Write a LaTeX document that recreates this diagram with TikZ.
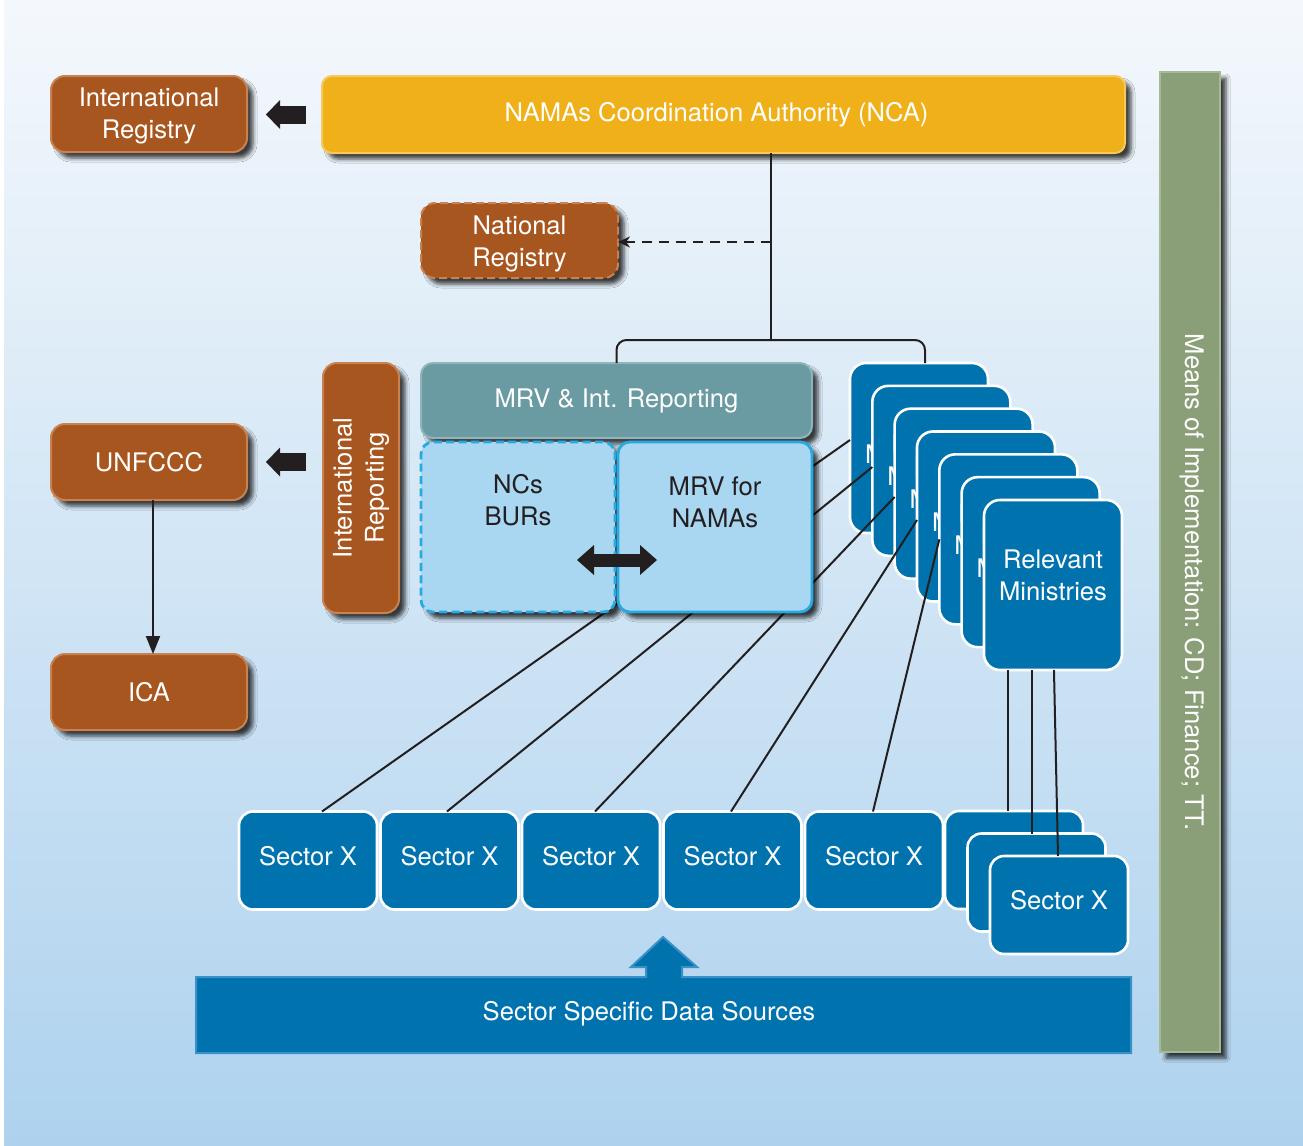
\documentclass[tikz,border=0pt]{standalone}
\usepackage{fontspec}
\setmainfont{TeX Gyre Heros}
\usetikzlibrary{shadows.blur, arrows.meta, calc}

\definecolor{bgtop}{HTML}{F4F8FC}
\definecolor{bgbot}{HTML}{AED2EE}
\definecolor{rust}{HTML}{A8561F}
\definecolor{rustedge}{HTML}{C9814F}
\definecolor{amber}{HTML}{F0B019}
\definecolor{amberedge}{HTML}{F7C85C}
\definecolor{slate}{HTML}{6A9AA2}
\definecolor{slateedge}{HTML}{8FB4BA}
\definecolor{pale}{HTML}{A9D6F1}
\definecolor{cyanedge}{HTML}{27AAE1}
\definecolor{deep}{HTML}{0073AE}
\definecolor{deepedge}{HTML}{3A90C7}
\definecolor{sage}{HTML}{8A9E77}
\definecolor{sageedge}{HTML}{A7B995}
\definecolor{ink}{HTML}{231F20}

\begin{document}
\begin{tikzpicture}[x=0.5pt, y=-0.5pt,
  every node/.style={font=\fontsize{12.8pt}{16pt}\selectfont, inner sep=0pt, outer sep=0pt},
  shadowed/.style={blur shadow={shadow xshift=3pt, shadow yshift=-3pt,
      shadow blur radius=2pt, shadow opacity=75}},
  rustbox/.style={draw=rustedge, line width=1pt, fill=rust, rounded corners=7pt,
      text=white, align=center, shadowed, minimum width=98pt, minimum height=38pt},
  amberbox/.style={draw=amberedge, line width=1pt, fill=amber, rounded corners=5pt,
      text=white, shadowed},
  slatebox/.style={draw=slateedge, line width=1pt, fill=slate, rounded corners=6pt,
      text=white, shadowed},
  palebox/.style={draw=cyanedge, line width=1.4pt, fill=pale, rounded corners=6pt,
      shadowed, minimum width=97pt, minimum height=85pt},
  sagebar/.style={draw=sageedge, line width=1pt, fill=sage, shadowed},
  card/.style={draw=white, line width=1.3pt, fill=deep, text=white, align=center},
  mincard/.style={card, rounded corners=8pt, minimum width=69pt, minimum height=85pt},
  seccard/.style={card, rounded corners=7pt, minimum width=69pt, minimum height=49pt,
      text depth=5pt},
  darktext/.style={text=ink, align=center},
  inlabel/.style={text=white, align=center, yshift=-1.2pt},
  link/.style={draw=ink, line width=1pt},
  blockarrow/.style={draw=ink, line width=9pt,
      -{Triangle[length=7pt, width=14.5pt, line width=0pt]}},
]

% backdrop
\shade[top color=bgtop, bottom color=bgbot] (0,0) rectangle (1303,1146);
\fill[white] (0,0) rectangle (4,1146);
\useasboundingbox (0,0) rectangle (1303,1146);

% ministries, stacked front to back
\foreach \k in {0,...,6} {
  \node[mincard, label={[text=white, align=center, yshift=5pt]center:Relevant\\Ministries}]
    (m\k) at ({919+22.33*\k},{448+22.83*\k}) {};
}

% sector row and sector stack
\foreach \k in {0,...,4} {
  \node[seccard] (s\k) at ({308+141.5*\k},860.5) {Sector X};
}
\node[seccard] (t0) at (1014,860) {};
\node[seccard] (t1) at (1036.5,882.5) {};
\node[seccard] (t2) at (1059,905) {Sector X};

% sectors to ministries
\draw[link] ([xshift=7pt]s0.north) -- ([yshift=4pt]m0.west);
\draw[link] ([xshift=-1.25pt]s1.north) -- ([yshift=1.9pt]m1.west);
\draw[link] ([xshift=2pt]s2.north) -- ([yshift=-1.65pt]m2.west);
\draw[link] ([xshift=-0.75pt]s3.north) -- ([yshift=-1.75pt]m3.west);
\draw[link] ([xshift=-0.5pt]s4.north) -- (m4.west);
\draw[link] ([xshift=-22.5pt]m6.south) -- ([xshift=-22.5pt]m6.south |- t0.north);
\draw[link] ([xshift=-10.5pt]m6.south) -- ([xshift=-10.5pt]m6.south |- t1.north);
\draw[link] ([xshift=0.5pt]m6.south) -- ([xshift=-0.5pt]t2.north);

% MRV block
\node[slatebox, minimum width=195.5pt, minimum height=37.5pt] (mrv) at (616.5,400.5)
  {MRV \& Int. Reporting};
\node[palebox, dash pattern=on 4pt off 2.2pt] (ncs) at (518,527) {};
\node[palebox] (mrvn) at (715,527) {};
\node[darktext] (ncs-t) at (518,500) {NCs\\BURs};
\node[darktext] (mrvn-t) at (715,502) {MRV for\\NAMAs};

% top authority and side bar
\node[sagebar, minimum width=30pt, minimum height=490pt] (moi-bar) at (1190,562) {};
\node[rotate=-90, text=white] (moi) at (1192,582) {Means of Implementation: CD; Finance; TT.};
\node[amberbox, minimum width=401.5pt, minimum height=38.5pt] (nca) at (723.5,114.5)
  {\hspace*{-7pt}NAMAs Coordination Authority (NCA)};

% registries and reporting
\node[rustbox, label={[inlabel]center:International\\Registry}] (intreg) at (149,114) {};
\node[rustbox, dash pattern=on 4pt off 2pt, minimum width=98.5pt, minimum height=37.5pt,
  label={[inlabel, yshift=-0.4pt]center:National\\Registry}] (natreg) at (519.5,240.5) {};
\node[rustbox, minimum width=38pt, minimum height=125pt] (intrep) at (361,488) {};
\node[rotate=90, text=white, align=center] (intrep-t) at (361,488) {International\\Reporting};
\node[rustbox] (unfccc) at (149,462) {UNFCCC};
\node[rustbox] (ica) at (149,692) {ICA};

% data sources bar with its upward arrow
\draw[fill=deep, draw=deepedge, line width=1pt]
  (196,977) -- (646,977) -- (646,967) -- (631,967) -- (663,937) -- (697,967)
  -- (682,967) -- (682,977) -- (1131,977) -- (1131,1053) -- (196,1053) -- cycle;
\node[text=white] (sds) at (649,1014) {Sector Specific Data Sources};

% connectors
\coordinate (hub) at (771,340);
\coordinate (tap) at (771,242);
\draw[link] (nca.south -| hub) -- (hub);
\draw[link, rounded corners=5pt] (mrv.north) |- (hub) -| ([xshift=3pt]m0.north);
\draw[link, line width=1.1pt, dash pattern=on 5pt off 3.5pt, -{Stealth[length=6pt, width=5.5pt]}]
  (tap) -- (tap -| natreg.east);
\draw[blockarrow, shorten <=8pt, shorten >=9.5pt] (nca.west) -- (nca.west -| intreg.east);
\draw[blockarrow, shorten <=8.5pt, shorten >=9.5pt] (intrep.west |- unfccc.east) -- (unfccc.east);
\draw[link, -{Triangle[length=9pt, width=7pt]}] ([xshift=2pt]unfccc.south) -- ([xshift=2pt]ica.north);
\draw[draw=ink, line width=6.5pt,
  {Triangle[length=8.5pt, width=15pt, line width=0pt]}-{Triangle[length=8.5pt, width=15pt, line width=0pt]},
  shorten <=29.5pt, shorten >=29pt]
  ([yshift=-16.5pt]ncs.center) -- ([yshift=-16.5pt]mrvn.center);

\end{tikzpicture}
\end{document}
